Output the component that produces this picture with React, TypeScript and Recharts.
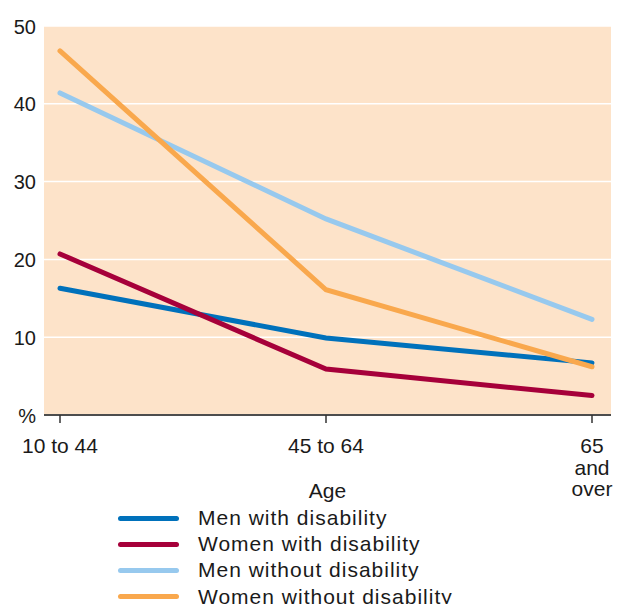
import { LineChart, Line, XAxis, YAxis, CartesianGrid, Label } from "recharts";

const AGE_GROUPS = ["10 to 44", "45 to 64", "65\nand\nover"];
const MEN_WITH = [16.3, 9.9, 6.7];
const WOMEN_WITH = [20.7, 5.9, 2.5];
const MEN_WITHOUT = [41.4, 25.2, 12.3];
const WOMEN_WITHOUT = [46.8, 16.1, 6.2];
const Y_TICKS = [0, 10, 20, 30, 40, 50];

const SERIES = [
  { key: "menWith", name: "Men with disability", color: "#0071bb" },
  { key: "womenWith", name: "Women with disability", color: "#a6003a" },
  { key: "menWithout", name: "Men without disability", color: "#97c9ee" },
  { key: "womenWithout", name: "Women without disability", color: "#f9a84d" },
];

const data = AGE_GROUPS.map((age, i) => ({
  age,
  menWith: MEN_WITH[i],
  womenWith: WOMEN_WITH[i],
  menWithout: MEN_WITHOUT[i],
  womenWithout: WOMEN_WITHOUT[i],
}));

const FONT = "'Liberation Sans', Arial, sans-serif";

// eslint-disable-next-line @typescript-eslint/no-explicit-any
const AgeTick = ({ x, y, payload }: any) => {
  const lines = String(payload.value).split("\n");
  return (
    <text x={x} y={y} fill="#1a1a1a" fontSize={21} fontFamily={FONT} textAnchor="middle">
      {lines.map((l, i) => (
        <tspan key={i} x={x} dy={i === 0 ? 28 : 21.5}>
          {l}
        </tspan>
      ))}
    </text>
  );
};

// eslint-disable-next-line @typescript-eslint/no-explicit-any
const PctTick = ({ x, y, payload }: any) => (
  <text x={x} y={y} dy={7.5} fill="#1a1a1a" fontSize={20} fontFamily={FONT} textAnchor="end">
    {payload.value === 0 ? "%" : payload.value}
  </text>
);

export default function App() {
  return (
    <div style={{ position: "absolute", left: 0, top: 0, width: 631, height: 604, background: "#fff" }}>
      <LineChart
        width={631}
        height={604}
        data={data}
        margin={{ top: 26, right: 20, left: 0, bottom: 0 }}
      >
        <CartesianGrid fill="#fde3c9" vertical={false} stroke="#ffffff" strokeWidth={1.5} />
        <XAxis
          dataKey="age"
          height={189}
          padding={{ left: 16, right: 19 }}
          axisLine={{ stroke: "#4d4d4d", strokeWidth: 2 }}
          tickLine={{ stroke: "#333", strokeWidth: 1.5 }}
          tickSize={8}
          tick={<AgeTick />}
          interval={0}
        >
          <Label
            value="Age"
            position="insideTop"
            offset={68}
            fill="#1a1a1a"
            fontSize={21}
            fontFamily={FONT}
          />
        </XAxis>
        <YAxis
          domain={[0, 50]}
          ticks={Y_TICKS}
          width={44}
          axisLine={false}
          tickLine={false}
          tick={<PctTick />}
        />
        {SERIES.map((s) => (
          <Line
            key={s.key}
            dataKey={s.key}
            name={s.name}
            stroke={s.color}
            strokeWidth={5}
            strokeLinecap="round"
            dot={false}
            activeDot={false}
            isAnimationActive={false}
          />
        ))}
      </LineChart>
      <div
        style={{
          position: "absolute",
          left: 118,
          top: 505,
          fontFamily: FONT,
          fontSize: 21,
          letterSpacing: 1,
          color: "#1a1a1a",
          whiteSpace: "nowrap",
        }}
      >
        {SERIES.map((s) => (
          <div key={s.key} style={{ display: "flex", alignItems: "center", height: 26.2 }}>
            <div style={{ width: 61, height: 5, borderRadius: 3, background: s.color, marginRight: 19 }} />
            <span>{s.name}</span>
          </div>
        ))}
      </div>
    </div>
  );
}
